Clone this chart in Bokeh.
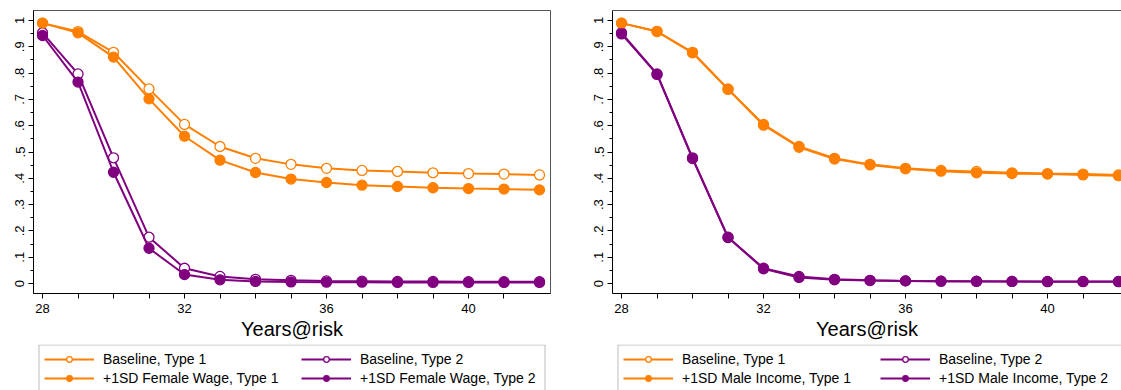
from bokeh.plotting import figure
from bokeh.models import FixedTicker, Legend, LegendItem, LinearAxis, Range1d, BoxAnnotation
from bokeh.layouts import row, column
from bokeh.embed import file_html
from bokeh.resources import INLINE

years = list(range(28, 43))
base_t1 = [0.990, 0.958, 0.879, 0.740, 0.605, 0.521, 0.476, 0.453, 0.438, 0.430, 0.426, 0.421, 0.418, 0.416, 0.413]
base_t2 = [0.953, 0.797, 0.478, 0.176, 0.058, 0.027, 0.016, 0.012, 0.010, 0.009, 0.008, 0.008, 0.007, 0.007, 0.007]
wage_t1 = [0.990, 0.953, 0.861, 0.702, 0.560, 0.469, 0.422, 0.397, 0.384, 0.374, 0.369, 0.364, 0.361, 0.359, 0.356]
wage_t2 = [0.943, 0.766, 0.423, 0.134, 0.034, 0.014, 0.008, 0.006, 0.005, 0.005, 0.004, 0.004, 0.004, 0.004, 0.004]
inc_t1 = [0.990, 0.959, 0.877, 0.738, 0.602, 0.518, 0.473, 0.451, 0.436, 0.427, 0.421, 0.418, 0.416, 0.413, 0.410]
inc_t2 = [0.949, 0.795, 0.475, 0.175, 0.056, 0.023, 0.014, 0.011, 0.010, 0.009, 0.009, 0.008, 0.008, 0.008, 0.008]

x_ticks = list(range(28, 42))
x_labels = {t: (str(t) if t % 4 == 0 else "") for t in x_ticks}
y_ticks = [0, 0.1, 0.2, 0.3, 0.4, 0.5, 0.6, 0.7, 0.8, 0.9, 1]
y_minor = [0.05, 0.15, 0.25, 0.35, 0.45, 0.55, 0.65, 0.75, 0.85, 0.95]
y_labels = {0: "0", 0.1: ".1", 0.2: ".2", 0.3: ".3", 0.4: ".4", 0.5: ".5",
            0.6: ".6", 0.7: ".7", 0.8: ".8", 0.9: ".9", 1: "1"}

ORANGE = "#FF7F00"
PURPLE = "#800080"
FONT = "Liberation Sans"


def draw_series(p, shock_t1, shock_t2, shock_name):
    series = [
        ("Baseline, Type 1", base_t1, ORANGE, False),
        ("Baseline, Type 2", base_t2, PURPLE, False),
        (shock_name + ", Type 1", shock_t1, ORANGE, True),
        (shock_name + ", Type 2", shock_t2, PURPLE, True),
    ]
    items = {}
    for label, vals, col, filled in series:
        lr = p.line(years, vals, line_color=col, line_width=2)
        sr = p.scatter(years, vals, marker="circle", size=10,
                       fill_color=col if filled else "white", line_color=col,
                       line_width=1.3)
        items[label] = LegendItem(label=label, renderers=[lr, sr])
    order = ["Baseline, Type 1", shock_name + ", Type 1", "Baseline, Type 2", shock_name + ", Type 2"]
    return [items[k] for k in order]


def make_legend(items, x):
    return Legend(items=items, location=(x, 4), orientation="vertical",
                  label_text_font=FONT, label_text_font_size="14px", label_text_color="black",
                  glyph_width=50, glyph_height=14, label_height=14, label_standoff=9,
                  spacing=3, padding=0, margin=0,
                  border_line_color=None, background_fill_alpha=0)


def make_panel(width, x_start, x_end, border_left, border_right, shock_t1, shock_t2, shock_name,
               box_right, right_open=False):
    p = figure(width=width, height=344, output_backend="svg", toolbar_location=None,
               x_range=Range1d(x_start, x_end), y_range=Range1d(-0.038, 1.038),
               min_border_left=border_left, min_border_right=border_right,
               min_border_top=10, min_border_bottom=51)
    p.background_fill_color = "white"
    p.border_fill_color = "white"
    p.xgrid.visible = False
    p.ygrid.visible = False

    xa = p.below[0]
    xa.ticker = FixedTicker(ticks=x_ticks)
    xa.major_label_overrides = x_labels
    xa.major_tick_out = 5
    xa.major_tick_in = 0
    xa.minor_tick_out = 0
    xa.axis_line_color = "black"
    xa.major_tick_line_color = "black"
    xa.major_label_text_font = FONT
    xa.major_label_text_font_size = "13px"
    xa.major_label_text_color = "black"
    xa.major_label_standoff = 5
    xa.axis_label = "Years@risk"
    xa.axis_label_text_font = FONT
    xa.axis_label_text_font_size = "20px"
    xa.axis_label_text_font_style = "normal"
    xa.axis_label_text_color = "black"
    xa.axis_label_standoff = 2

    ya = p.left[0]
    ya.ticker = FixedTicker(ticks=y_ticks, minor_ticks=y_minor)
    ya.major_label_overrides = y_labels
    ya.major_label_orientation = "vertical"
    ya.major_tick_out = 5
    ya.major_tick_in = 0
    ya.minor_tick_out = 3
    ya.minor_tick_in = 0
    ya.axis_line_color = "black"
    ya.major_tick_line_color = "black"
    ya.minor_tick_line_color = "black"
    ya.major_label_text_font = FONT
    ya.major_label_text_font_size = "13px"
    ya.major_label_text_color = "black"
    ya.major_label_standoff = 4

    if right_open:
        p.outline_line_color = None
        top = LinearAxis(ticker=FixedTicker(ticks=[]), major_tick_out=0, major_tick_in=0,
                         minor_tick_out=0, minor_tick_in=0, axis_line_color="#555555",
                         major_label_text_font_size="0px")
        p.add_layout(top, "above")
    else:
        p.outline_line_color = "#555555"
        p.outline_line_width = 1

    draw_series(p, shock_t1, shock_t2, shock_name)

    # legend strip below the plot; its series lie outside the strip's visible x range
    frame_w = width - border_left - border_right
    x0 = 1000
    lg = figure(width=width, height=46, output_backend="svg", toolbar_location=None,
                x_range=Range1d(x0, x0 + frame_w), y_range=Range1d(0, 46),
                x_axis_type=None, y_axis_type=None,
                min_border=0, min_border_left=border_left, min_border_right=border_right,
                min_border_top=0, min_border_bottom=0)
    lg.outline_line_color = None
    lg.xgrid.visible = False
    lg.ygrid.visible = False
    lg.background_fill_color = "white"
    lg.border_fill_color = "white"
    items = draw_series(lg, shock_t1, shock_t2, shock_name)
    lg.add_layout(BoxAnnotation(left=x0 + 5.5, right=x0 + box_right, top=45.5, bottom=-10,
                                fill_alpha=0, line_color="#222222", line_width=1))
    lg.add_layout(make_legend(items[:2], 11))
    lg.add_layout(make_legend(items[2:], 268))
    return column(p, lg, spacing=0)


c1 = make_panel(587, 27.746, 42.31, 33, 37, wage_t1, wage_t2, "+1SD Female Wage", 511.5)
c2 = make_panel(534, 27.746, 42.084, 25, 0, inc_t1, inc_t2, "+1SD Male Income", 530, right_open=True)

layout = row(c1, c2, spacing=0)
open("out.html", "w").write(file_html(layout, INLINE))
